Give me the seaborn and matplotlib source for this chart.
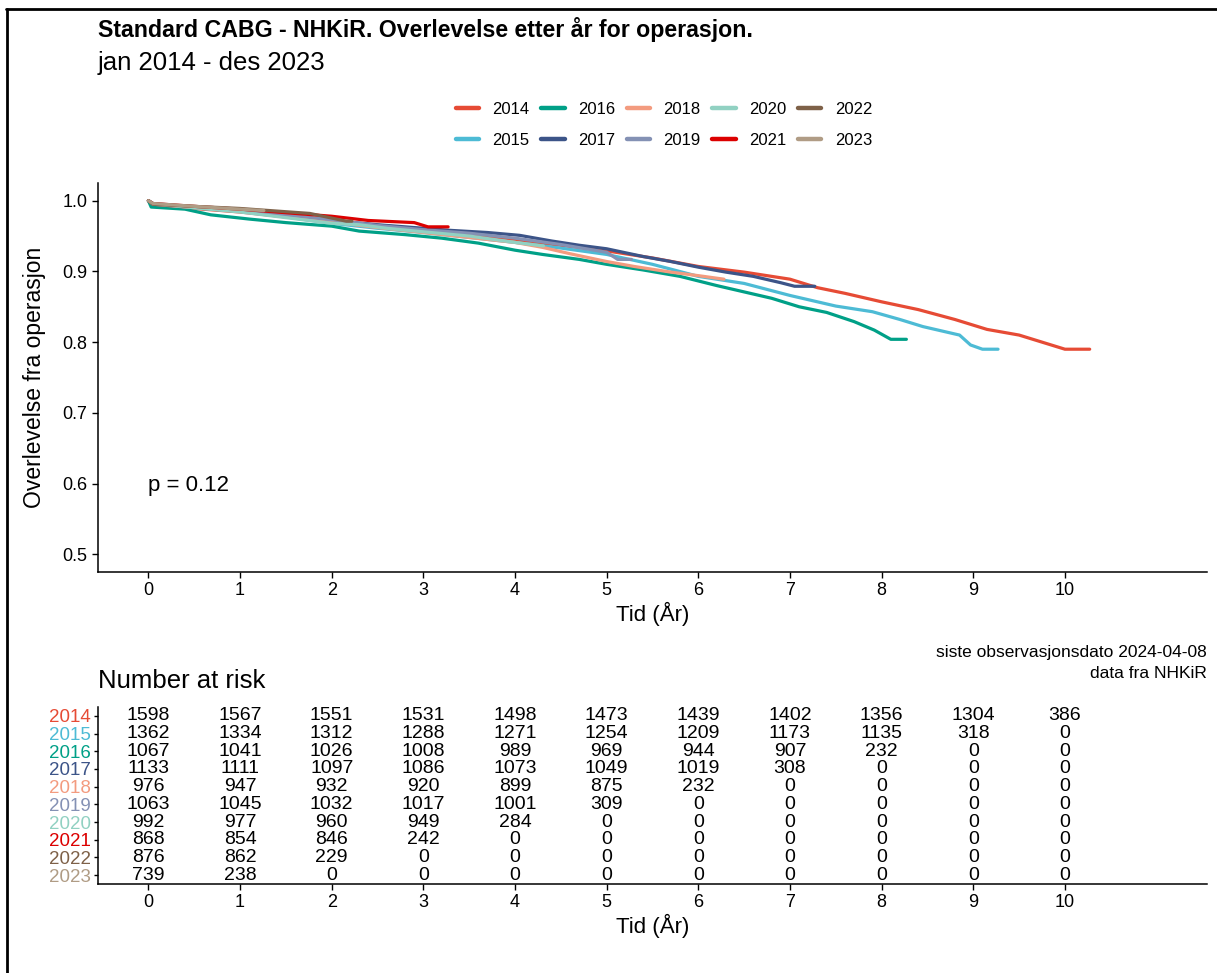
import numpy as np
import pandas as pd
import matplotlib
matplotlib.use("Agg")
import matplotlib.pyplot as plt
from matplotlib.lines import Line2D
import seaborn as sns

# ---------------- data ----------------
years = ["2014", "2015", "2016", "2017", "2018", "2019", "2020", "2021", "2022", "2023"]
colors = ["#E64B35", "#4DBBD5", "#00A087", "#3C5488", "#F39B7F",
          "#8491B4", "#91D1C2", "#DC0000", "#7E6148", "#B09C85"]

t_2014 = [0, 0.05, 0.5, 1, 1.5, 2, 2.5, 3, 3.5, 4, 4.5, 5, 5.5, 6, 6.5, 7, 7.3, 7.6, 8, 8.4, 8.8, 9.15, 9.5, 9.75, 10.0, 10.27]
s_2014 = [1.0, 0.994, 0.989, 0.984, 0.977, 0.970, 0.964, 0.958, 0.951, 0.944, 0.937, 0.929, 0.919, 0.907, 0.899, 0.889, 0.877, 0.869, 0.857, 0.846, 0.832, 0.818, 0.810, 0.800, 0.790, 0.790]
t_2015 = [0, 0.05, 0.5, 1, 1.5, 2, 2.5, 3, 3.5, 4, 4.5, 5, 5.5, 6, 6.5, 7, 7.5, 7.9, 8.2, 8.45, 8.85, 8.97, 9.1, 9.27]
s_2015 = [1.0, 0.995, 0.990, 0.985, 0.977, 0.968, 0.961, 0.955, 0.948, 0.941, 0.933, 0.924, 0.910, 0.893, 0.883, 0.866, 0.851, 0.843, 0.832, 0.822, 0.810, 0.796, 0.790, 0.790]
t_2016 = [0, 0.03, 0.4, 0.68, 1.1, 1.5, 2.0, 2.3, 2.8, 3.2, 3.6, 4.0, 4.3, 4.7, 5.0, 5.4, 5.8, 6.2, 6.5, 6.8, 7.1, 7.4, 7.7, 7.92, 8.1, 8.27]
s_2016 = [1.0, 0.991, 0.988, 0.980, 0.974, 0.969, 0.964, 0.957, 0.952, 0.947, 0.940, 0.930, 0.924, 0.917, 0.910, 0.902, 0.893, 0.880, 0.871, 0.862, 0.850, 0.842, 0.829, 0.817, 0.804, 0.804]
t_2017 = [0, 0.05, 0.5, 1, 1.5, 2, 2.5, 3, 3.3, 3.7, 4.05, 4.4, 4.7, 5.0, 5.4, 5.7, 6.0, 6.3, 6.6, 6.9, 7.05, 7.27]
s_2017 = [1.0, 0.995, 0.990, 0.985, 0.979, 0.972, 0.966, 0.961, 0.958, 0.955, 0.951, 0.943, 0.937, 0.932, 0.921, 0.914, 0.906, 0.899, 0.893, 0.884, 0.879, 0.879]
t_2018 = [0, 0.05, 0.5, 1, 1.5, 2, 2.5, 3, 3.5, 4, 4.3, 4.6, 5.0, 5.3, 5.7, 6.0, 6.28]
s_2018 = [1.0, 0.995, 0.990, 0.985, 0.978, 0.970, 0.962, 0.955, 0.948, 0.941, 0.934, 0.925, 0.914, 0.907, 0.899, 0.894, 0.889]
t_2019 = [0, 0.05, 0.5, 1, 1.5, 2, 2.5, 3, 3.5, 4, 4.5, 5.0, 5.12, 5.27]
s_2019 = [1.0, 0.996, 0.991, 0.986, 0.980, 0.973, 0.965, 0.959, 0.954, 0.947, 0.938, 0.927, 0.917, 0.917]
t_2020 = [0, 0.05, 0.5, 1, 1.5, 2, 2.3, 2.6, 3, 3.5, 4, 4.31]
s_2020 = [1.0, 0.996, 0.990, 0.984, 0.976, 0.968, 0.966, 0.961, 0.956, 0.950, 0.941, 0.936]
t_2021 = [0, 0.05, 0.5, 1, 1.5, 2.0, 2.4, 2.9, 3.05, 3.27]
s_2021 = [1.0, 0.996, 0.992, 0.988, 0.983, 0.978, 0.972, 0.969, 0.963, 0.963]
t_2022 = [0, 0.05, 0.5, 1.0, 1.76, 2.16, 2.22]
s_2022 = [1.0, 0.995, 0.992, 0.989, 0.982, 0.971, 0.971]
t_2023 = [0, 0.05, 0.5, 1.0, 1.26]
s_2023 = [1.0, 0.996, 0.992, 0.988, 0.986]

risk_times = [0, 1, 2, 3, 4, 5, 6, 7, 8, 9, 10]
risk_2014 = [1598, 1567, 1551, 1531, 1498, 1473, 1439, 1402, 1356, 1304, 386]
risk_2015 = [1362, 1334, 1312, 1288, 1271, 1254, 1209, 1173, 1135, 318, 0]
risk_2016 = [1067, 1041, 1026, 1008, 989, 969, 944, 907, 232, 0, 0]
risk_2017 = [1133, 1111, 1097, 1086, 1073, 1049, 1019, 308, 0, 0, 0]
risk_2018 = [976, 947, 932, 920, 899, 875, 232, 0, 0, 0, 0]
risk_2019 = [1063, 1045, 1032, 1017, 1001, 309, 0, 0, 0, 0, 0]
risk_2020 = [992, 977, 960, 949, 284, 0, 0, 0, 0, 0, 0]
risk_2021 = [868, 854, 846, 242, 0, 0, 0, 0, 0, 0, 0]
risk_2022 = [876, 862, 229, 0, 0, 0, 0, 0, 0, 0, 0]
risk_2023 = [739, 238, 0, 0, 0, 0, 0, 0, 0, 0, 0]

title = "Standard CABG - NHKiR. Overlevelse etter år for operasjon."
subtitle = "jan 2014 - des 2023"
p_text = "p = 0.12"
caption1 = "siste observasjonsdato 2024-04-08"
caption2 = "data fra NHKiR"

# ---------------- build frames ----------------
surv_t = [t_2014, t_2015, t_2016, t_2017, t_2018, t_2019, t_2020, t_2021, t_2022, t_2023]
surv_s = [s_2014, s_2015, s_2016, s_2017, s_2018, s_2019, s_2020, s_2021, s_2022, s_2023]
risk_rows = [risk_2014, risk_2015, risk_2016, risk_2017, risk_2018,
             risk_2019, risk_2020, risk_2021, risk_2022, risk_2023]

frames = []
for y, tt, ss in zip(years, surv_t, surv_s):
    frames.append(pd.DataFrame({"Tid": tt, "Surv": ss, "Year": y}))
df = pd.concat(frames, ignore_index=True)
palette = dict(zip(years, colors))

# ---------------- figure ----------------
sns.set_theme(style="ticks")
plt.rcParams["font.family"] = ["Liberation Sans", "DejaVu Sans"]
plt.rcParams["text.color"] = "black"
plt.rcParams["axes.labelcolor"] = "black"
plt.rcParams["xtick.color"] = "black"
plt.rcParams["ytick.color"] = "black"

W, H = 1217, 973
fig = plt.figure(figsize=(W / 100, H / 100), dpi=100)
fig.patch.set_facecolor("white")

def fx(px):
    return px / W

def fy(py):
    return 1 - py / H

# main axes
ax = fig.add_axes([fx(98), fy(572), fx(1207) - fx(98), fy(183) - fy(572)])
sns.lineplot(data=df, x="Tid", y="Surv", hue="Year", hue_order=years,
             palette=palette, estimator=None, sort=False, units="Year",
             linewidth=2.3, legend=False, ax=ax)
ax.set_xlim(-0.55, 11.55)
ax.set_ylim(0.475, 1.025)
ax.set_xticks(range(0, 11))
ax.set_yticks([0.5, 0.6, 0.7, 0.8, 0.9, 1.0])
ax.set_yticklabels([f"{v:.1f}" for v in [0.5, 0.6, 0.7, 0.8, 0.9, 1.0]])
ax.tick_params(axis="both", labelsize=13, colors="black", length=4, width=1)
ax.set_xlabel("Tid (År)", fontsize=16, labelpad=2, color="black")
ax.set_ylabel("Overlevelse fra operasjon", fontsize=16.5, labelpad=12, color="black")
for side in ["top", "right"]:
    ax.spines[side].set_visible(False)
for side in ["left", "bottom"]:
    ax.spines[side].set_linewidth(1.1)
    ax.spines[side].set_color("black")
ax.set_facecolor("white")
ax.text(0, 0.597, p_text, fontsize=16, ha="left", va="center", color="black")

# legend
handles = [Line2D([0], [0], color=c, lw=3.2) for c in colors]
fig.legend(handles, years, loc="center", bbox_to_anchor=(fx(664), fy(125)),
           ncol=5, frameon=False, fontsize=12, handlelength=1.4,
           columnspacing=0.7, handletextpad=0.8, labelspacing=0.95)

# titles and captions
fig.text(fx(98), fy(30), title, fontsize=16.7, fontweight="bold", ha="left", va="center", color="black")
fig.text(fx(98), fy(63), subtitle, fontsize=18.5, ha="left", va="center", color="black")
fig.text(fx(1207), fy(653), caption1, fontsize=12.5, ha="right", va="center", color="black")
fig.text(fx(1207), fy(674), caption2, fontsize=12.5, ha="right", va="center", color="black")
fig.text(fx(98), fy(681), "Number at risk", fontsize=18.5, ha="left", va="center", color="black")

# risk table
axr = fig.add_axes([fx(98), fy(884), fx(1207) - fx(98), fy(707) - fy(884)])
axr.set_xlim(-0.55, 11.55)
axr.set_ylim(9.5, -0.5)
for i, row in enumerate(risk_rows):
    for t, n in zip(risk_times, row):
        axr.text(t, i, str(n), ha="center", va="center", fontsize=14,
                 color="black")
axr.set_yticks(range(len(years)))
axr.set_yticklabels(years)
for lab, c in zip(axr.get_yticklabels(), colors):
    lab.set_color(c)
axr.set_xticks(risk_times)
axr.tick_params(axis="x", labelsize=13, colors="black", length=4, width=1)
axr.tick_params(axis="y", labelsize=13.5, length=3, width=1, pad=2)
axr.set_xlabel("Tid (År)", fontsize=16, labelpad=2, color="black")
for side in ["top", "right"]:
    axr.spines[side].set_visible(False)
for side in ["left", "bottom"]:
    axr.spines[side].set_linewidth(1.1)
    axr.spines[side].set_color("black")
axr.set_facecolor("white")

# outer border (top and left)
fig.add_artist(Line2D([fx(7), fx(7)], [0, fy(8.5)], color="black", lw=2.0,
                      transform=fig.transFigure))
fig.add_artist(Line2D([fx(6), 1], [fy(8.5), fy(8.5)], color="black", lw=2.0,
                      transform=fig.transFigure))

fig.savefig("out.png", dpi=100, facecolor="white")
